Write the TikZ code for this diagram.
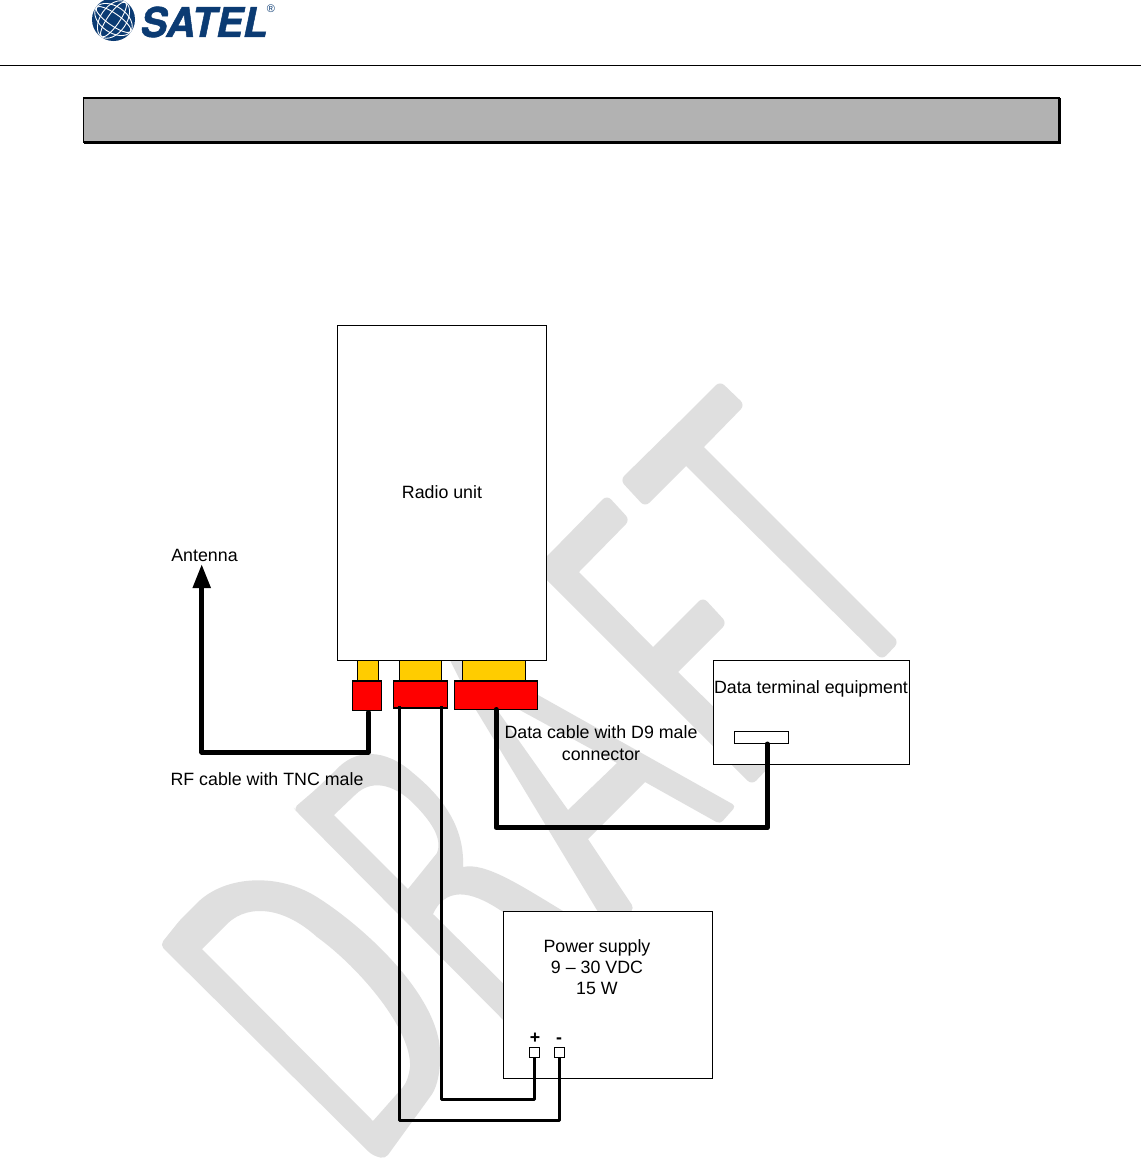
\documentclass[tikz,border=0pt]{standalone}
\usepackage{fontspec}
\setmainfont{Liberation Sans}
\newfontfamily\logofont{TeX Gyre Heros}[BoldItalicFeatures={FakeBold=1.2}]
\usetikzlibrary{arrows.meta,calc}
\definecolor{satelblue}{HTML}{0B3B73}
\definecolor{ghost}{HTML}{DFDFDF}
\definecolor{barfill}{HTML}{B2B2B2}
\definecolor{plugbody}{HTML}{FFCC00}
\definecolor{plughead}{HTML}{FF0000}
\tikzset{
  box/.style={draw,fill=white,line width=1.2pt,inner sep=0pt,outer sep=0pt,anchor=north west},
  plug/.style={box,fill=plugbody},
  head/.style={box,fill=plughead},
  pin/.style={box},
  cable/.style={line width=5pt,line cap=round,line join=round},
  wire/.style={line width=3pt,line join=round},
  label/.style={font=\fontsize{17.8}{21}\selectfont,align=center,inner sep=0pt}
}
\begin{document}
\begin{tikzpicture}[x=1pt,y=-1pt]
  \useasboundingbox (0,0) rectangle (1141,1160);
  \fill[white] (0,0) rectangle (1141,1160);
  % watermark
  \fill[ghost,even odd rule]
    (197,903) .. controls (225,875) and (280,872) .. (320,899)
    .. controls (365,928) and (445,1000) .. (440,1060)
    .. controls (440,1075) and (436,1090) .. (430,1097)
    [rounded corners=5pt] -- (385,1159) -- (372,1155) -- (160,945) -- (180,920) [sharp corners] -- cycle
    (202,949) -- (228,923) .. controls (250,903) and (285,908) .. (317,937)
    .. controls (360,968) and (412,1030) .. (410,1067)
    .. controls (409,1075) and (407,1082) .. (403,1087) -- (373,1121) -- cycle;
  \fill[ghost,even odd rule]
    (335,771) .. controls (355,748) and (385,748) .. (413,773)
    .. controls (440,795) and (465,825) .. (463,867)
    .. controls (485,862) and (520,885) .. (563,911)
    -- (563,940) -- (530,940) -- (503,912) .. controls (478,895) and (448,882) .. (433,914)
    -- (530,1010) -- (530,1047) [rounded corners=4pt] -- (296,811) -- (294,808) -- (315,790) [sharp corners] -- cycle
    (334,815) -- (355,795) .. controls (375,775) and (400,790) .. (413,803)
    .. controls (430,820) and (443,838) .. (437,853) -- (408,889) -- cycle;
  \fill[ghost,even odd rule]
    (440,640) [rounded corners=4pt] -- (736,806) -- (720,824) [sharp corners] -- (645,782) -- (588,839)
    [rounded corners=4pt] -- (634,908) -- (612,935) [sharp corners] -- (470,700) -- cycle
    (483,690) -- (568,810) -- (617,763) -- cycle;
  \fill[ghost]
    [rounded corners=6pt] (560,543) -- (607,495) -- (630,520) [sharp corners] -- (579,572) -- (653,647)
    [rounded corners=6pt] -- (703,597) -- (727,623) [sharp corners] -- (678,672)
    [rounded corners=6pt] -- (772,764) -- (752,785) [sharp corners] -- (535,568) -- cycle;
  \fill[ghost]
    [rounded corners=6pt] (680,421) -- (720,381) -- (745,405) [sharp corners] -- (704,447)
    [rounded corners=6pt] -- (899,642) -- (882,660) [sharp corners] -- (686,466)
    [rounded corners=6pt] -- (645,507) -- (620,480) [sharp corners] -- cycle;
  % logo
  \node[circle,fill=satelblue,minimum size=43pt,inner sep=0pt] (globe) at (113.5,19.5) {};
  \foreach \ra in {6,13} {
    \draw[white,line width=.9pt] (globe.center) ellipse[x radius=21,y radius=\ra,rotate=-35];
    \draw[white,line width=.9pt] (globe.center) ellipse[x radius=21,y radius=\ra,rotate=55];
  }
  \node[text=satelblue,font=\fontsize{41}{41}\selectfont\logofont\bfseries\itshape,xscale=.98,inner sep=0pt] (brand) at (204,22) {SATEL};
  \node[text=satelblue,font=\fontsize{11}{11}\selectfont,inner sep=0pt] (regmark) at (271,9) {®};
  % heading
  \draw[line width=1.2pt] (0,65.5) -- (1141,65.5);
  \node[box,fill=barfill,line width=1.8pt,minimum width=975.5pt,minimum height=44pt] (headbar) at (83.5,98) {};
  \draw[line width=3pt] (headbar.south west) -- (headbar.south east) -- (headbar.north east);
  % units
  \node[box,minimum width=209pt,minimum height=335pt] (radio) at (337.3,325.3) {};
  \node[box,minimum width=196pt,minimum height=104pt] (dte) at (713.4,660.3) {};
  \node[box,minimum width=54pt,minimum height=12pt] (dteport) at (734.5,731.3) {};
  \node[box,minimum width=209pt,minimum height=167pt] (psu) at (503.4,911.4) {};
  \node[pin,minimum width=10pt,minimum height=10pt] (pluspin) at (529.3,1047.4) {};
  \node[pin,minimum width=10pt,minimum height=10pt] (minuspin) at (554.3,1047.4) {};
  % connectors
  \node[plug,minimum width=21pt,minimum height=21pt] (plugrf) at (357.5,660.3) {};
  \node[plug,minimum width=42pt,minimum height=21pt] (plugpower) at (399.5,660.3) {};
  \node[plug,minimum width=63pt,minimum height=21pt] (plugdata) at (462.5,660.3) {};
  \node[head,minimum width=29.5pt,minimum height=29.5pt] (headrf) at (352.3,681) {};
  \node[head,minimum width=54pt,minimum height=27pt] (headpower) at (393.5,681) {};
  \node[head,minimum width=83pt,minimum height=28.5pt] (headdata) at (454.5,681) {};
  % cable ends
  \coordinate (rftap) at (368.3,712.5);
  \coordinate (antennatip) at (201.7,564);
  \coordinate (dtetap) at (767.3,744);
  \coordinate (plustap) at (441.3,706);
  \coordinate (minustap) at (399.3,706);
  % cables
  \draw[cable,-{Triangle[length=24pt,width=17pt]}] (rftap) -- ++(0,39.5) -| (antennatip);
  \draw[cable] (headdata.south) -- ++(0,118.2) -| (dtetap);
  \draw[wire] (pluspin.south) -- ++(0,41.9) -| (plustap);
  \draw[wire] (minuspin.south) -- ++(0,62.6) -| (minustap);
  % texts
  \node[label] (radiotext) at (442,492) {Radio unit};
  \node[label] (antennatext) at (204.5,555) {Antenna};
  \node[label] (rftext) at (267,779) {RF cable with TNC male};
  \node[label] (datatext) at (601,743) {Data cable with D9 male\\[1pt]connector};
  \node[label] (dtetext) at (811,689) {Data terminal equipment};
  \node[label] (psutext) at (597,967) {Power supply\\9 – 30 VDC\\15 W};
  \node[label,font=\fontsize{17.8}{21}\selectfont\bfseries] (plustext) at (535,1038) {+};
  \node[label,font=\fontsize{17.8}{21}\selectfont\bfseries] (minustext) at (559,1041) {-};
\end{tikzpicture}
\end{document}
